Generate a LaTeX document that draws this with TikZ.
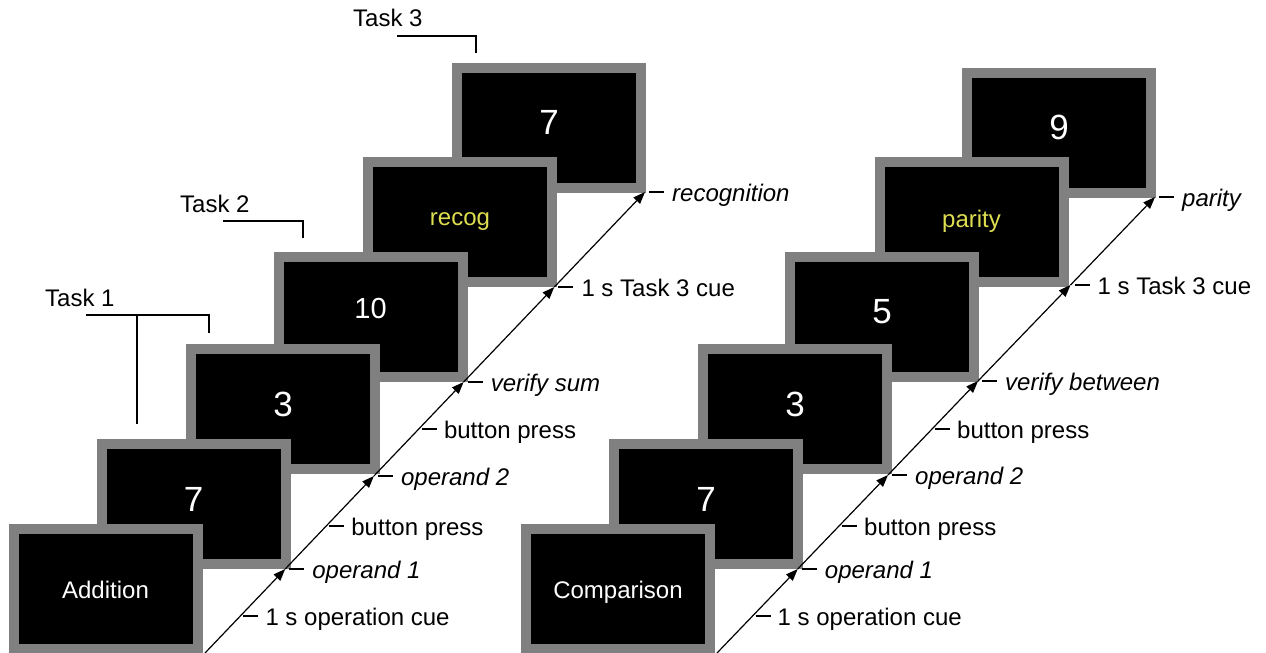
\documentclass[tikz,border=0pt]{standalone}
\usepackage{fontspec}
\setmainfont{Liberation Sans}
\usetikzlibrary{arrows.meta}
\definecolor{framegray}{RGB}{128,128,128}
\definecolor{cueyellow}{RGB}{222,222,80}
\begin{document}
\begin{tikzpicture}[x=1pt,y=-1pt,
  screen/.style={draw=framegray,line width=10pt,fill=black,minimum width=184pt,
    minimum height=120pt,inner sep=0pt,text=white,font=\fontsize{24}{28}\selectfont},
  digit/.style={font=\fontsize{35}{40}\selectfont,text depth=10pt},
  word/.style={text height=19pt,text depth=0pt},
  cue/.style={text=cueyellow},
  diag/.style={line width=1.2pt,-{Triangle[length=12pt,width=9pt]}},
  tick/.style={line width=1.2pt},
  bracket/.style={line width=1.2pt},
  lab/.style={anchor=base west,inner sep=0pt,font=\fontsize{24}{28}\selectfont},
  ital/.style={anchor=base west,inner sep=0pt,font=\fontsize{24}{28}\selectfont\itshape}]
\useasboundingbox (0,0) rectangle (1266,653);

% ---------------- left stack (Addition) ----------------
\node[screen,digit] (L6) at (549,127.5) {7};
\node[screen,cue] (L5) at (460,221.5) {recog};
\node[screen,font=\fontsize{29}{34}\selectfont,text depth=16pt] (L4) at (370.5,316.5) {10};
\node[screen,digit] (L3) at (283,409) {3};
\node[screen,digit] (L2) at (193.5,504) {7};
\node[screen,word] (L1) at (105.5,588.5) {Addition};

% diagonal time line
\coordinate (Ls) at (205,653);
\coordinate (La1) at (285.2,569);
\coordinate (La2) at (373.9,476);
\coordinate (La3) at (463.6,382);
\coordinate (La4) at (554.3,287);
\coordinate (La5) at (645,192);
\coordinate (Lc0) at (240.3,616);
\coordinate (Lb1) at (326.2,526);
\coordinate (Lb2) at (418.8,429);
\draw[diag] (Ls) -- (La1);
\draw[diag] (La1) -- (La2);
\draw[diag] (La2) -- (La3);
\draw[diag] (La3) -- (La4);
\draw[diag] (La4) -- (La5);

% ticks and labels
\draw[tick] ([xshift=3pt]Lc0) -- ++(15,0) coordinate (tLc0);
\node[lab] (nLc0) at ([xshift=7pt,yshift=-9pt]tLc0) {1 s operation cue};
\draw[tick] ([xshift=4pt]La1) -- ++(15,0) coordinate (tLa1);
\node[ital] (nLa1) at ([xshift=8pt,yshift=-9pt]tLa1) {operand 1};
\draw[tick] ([xshift=3pt]Lb1) -- ++(15,0) coordinate (tLb1);
\node[lab] (nLb1) at ([xshift=7pt,yshift=-9pt]tLb1) {button press};
\draw[tick] ([xshift=4pt]La2) -- ++(15,0) coordinate (tLa2);
\node[ital] (nLa2) at ([xshift=8pt,yshift=-9pt]tLa2) {operand 2};
\draw[tick] ([xshift=3pt]Lb2) -- ++(15,0) coordinate (tLb2);
\node[lab] (nLb2) at ([xshift=7pt,yshift=-9pt]tLb2) {button press};
\draw[tick] ([xshift=4pt]La3) -- ++(15,0) coordinate (tLa3);
\node[ital] (nLa3) at ([xshift=8pt,yshift=-9pt]tLa3) {verify sum};
\draw[tick] ([xshift=4pt]La4) -- ++(15,0) coordinate (tLa4);
\node[lab] (nLa4) at ([xshift=8pt,yshift=-9pt]tLa4) {1 s Task 3 cue};
\draw[tick] ([xshift=4pt]La5) -- ++(15,0) coordinate (tLa5);
\node[ital] (nLa5) at ([xshift=8pt,yshift=-9pt]tLa5) {recognition};

% task brackets
\node[lab] (T3) at (353,27) {Task 3};
\coordinate (T3a) at (397,36);
\coordinate (T3b) at (476,36);
\coordinate (T3c) at (476,53);
\draw[bracket] (T3a) -- (T3b) -- (T3c);
\node[lab] (T2) at (180,212) {Task 2};
\coordinate (T2a) at (223,221);
\coordinate (T2b) at (303,221);
\coordinate (T2c) at (303,238);
\draw[bracket] (T2a) -- (T2b) -- (T2c);
\node[lab] (T1) at (45,306) {Task 1};
\coordinate (T1a) at (86,315);
\coordinate (T1b) at (209,315);
\coordinate (T1c) at (209,333);
\coordinate (T1d) at (137,315);
\coordinate (T1e) at (137,424);
\draw[bracket] (T1a) -- (T1b) -- (T1c);
\draw[bracket] (T1d) -- (T1e);

% ---------------- right stack (Comparison) ----------------
\node[screen,digit] (R6) at (1059,132.5) {9};
\node[screen,cue] (R5) at (971.5,221.5) {parity};
\node[screen,digit] (R4) at (882,316.5) {5};
\node[screen,digit] (R3) at (795,409) {3};
\node[screen,digit] (R2) at (706,504) {7};
\node[screen,word] (R1) at (618,588.5) {Comparison};

\coordinate (Rs) at (717,653);
\coordinate (Ra1) at (797.7,569);
\coordinate (Ra2) at (888,475);
\coordinate (Ra3) at (978,381);
\coordinate (Ra4) at (1070.5,285);
\coordinate (Ra5) at (1155,197);
\coordinate (Rc0) at (752.5,616);
\coordinate (Rb1) at (839,526);
\coordinate (Rb2) at (932,429);
\draw[diag] (Rs) -- (Ra1);
\draw[diag] (Ra1) -- (Ra2);
\draw[diag] (Ra2) -- (Ra3);
\draw[diag] (Ra3) -- (Ra4);
\draw[diag] (Ra4) -- (Ra5);

\draw[tick] ([xshift=3pt]Rc0) -- ++(15,0) coordinate (tRc0);
\node[lab] (nRc0) at ([xshift=7pt,yshift=-9pt]tRc0) {1 s operation cue};
\draw[tick] ([xshift=4pt]Ra1) -- ++(15,0) coordinate (tRa1);
\node[ital] (nRa1) at ([xshift=8pt,yshift=-9pt]tRa1) {operand 1};
\draw[tick] ([xshift=3pt]Rb1) -- ++(15,0) coordinate (tRb1);
\node[lab] (nRb1) at ([xshift=7pt,yshift=-9pt]tRb1) {button press};
\draw[tick] ([xshift=4pt]Ra2) -- ++(15,0) coordinate (tRa2);
\node[ital] (nRa2) at ([xshift=8pt,yshift=-9pt]tRa2) {operand 2};
\draw[tick] ([xshift=3pt]Rb2) -- ++(15,0) coordinate (tRb2);
\node[lab] (nRb2) at ([xshift=7pt,yshift=-9pt]tRb2) {button press};
\draw[tick] ([xshift=4pt]Ra3) -- ++(15,0) coordinate (tRa3);
\node[ital] (nRa3) at ([xshift=8pt,yshift=-9pt]tRa3) {verify between};
\draw[tick] ([xshift=4pt]Ra4) -- ++(15,0) coordinate (tRa4);
\node[lab] (nRa4) at ([xshift=8pt,yshift=-9pt]tRa4) {1 s Task 3 cue};
\draw[tick] ([xshift=4pt]Ra5) -- ++(15,0) coordinate (tRa5);
\node[ital] (nRa5) at ([xshift=8pt,yshift=-9pt]tRa5) {parity};
\end{tikzpicture}
\end{document}
